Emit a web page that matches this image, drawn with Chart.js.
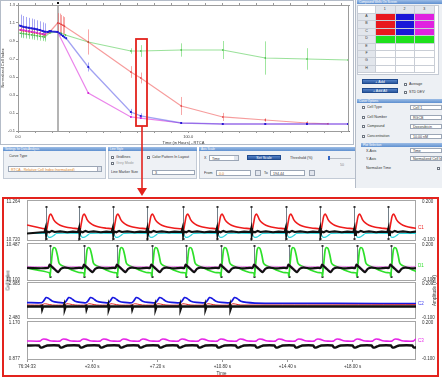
<!DOCTYPE html>
<html>
<head>
<meta charset="utf-8">
<script src="https://cdn.jsdelivr.net/npm/chart.js@4.4.1/dist/chart.umd.min.js"></script>
<style>
  body { margin: 0; width: 442px; height: 378px; position: relative; overflow: hidden; background: #fff;
         font-family: "Liberation Sans", Arial, sans-serif; }
  .a { position: absolute; box-sizing: border-box; white-space: nowrap; overflow: hidden; font-size: 3.6px; color: #333; }
  canvas { position: absolute; }
  .rot { position: absolute; font-size: 4.5px; color: #333; transform: rotate(-90deg); transform-origin: center; white-space: nowrap; }
</style>
</head>
<body>
<div id="ui"></div>
<canvas id="topChart" width="353" height="145" style="left:0;top:0"></canvas>
<div class="a" style="left:2px;top:197px;width:437px;height:180px;border:2px solid #e3231d"></div>
<canvas id="p1" width="432" height="47" style="left:4px;top:197px"></canvas>
<canvas id="p2" width="432" height="44" style="left:4px;top:240px"></canvas>
<canvas id="p3" width="432" height="43" style="left:4px;top:279px"></canvas>
<canvas id="p4" width="432" height="58" style="left:4px;top:318px"></canvas>
<div class="rot" style="left:-7px;top:278px;width:30px;text-align:center">Cell Index</div>
<div class="rot" style="left:417px;top:288px;width:34px;text-align:center">Amplitude (mV)</div>
<svg width="442" height="378" style="position:absolute;left:0;top:0;pointer-events:none">
  <rect x="136" y="39" width="11" height="87" fill="none" stroke="#e3231d" stroke-width="1.8"/>
  <line x1="142" y1="126" x2="142" y2="190" stroke="#e3231d" stroke-width="1.6"/>
  <polygon points="137,188 147,188 142,196" fill="#e3231d"/>
</svg>
<script>
// ---------- top chart: normalized cell index vs time (hours) ----------
const topYTicks = [-0.1, 0.1, 0.3, 0.5, 0.7, 0.9, 1.1, 1.3];
const topXTicks = [0, 10, 20, 30, 40, 50, 60, 70, 80, 90, 100, 110, 120, 130, 140, 150, 160, 170, 180, 190];
const topXLabels = { 0: '0.0', 100: '100.0' };
const addTime = 23.3;

const blueT = [0, 1.6, 3.2, 4.8, 6.4, 8.0, 9.6, 11.2, 12.8, 14.4, 15.7, 17.6, 18.6, 19.4, 23.3, 24.4, 25.4, 26.4, 27.3, 28.3, 41.3, 66.3, 72.1, 95.9, 120.3, 145.3, 169.8, 194];
const blueV = [1.078, 1.068, 1.058, 1.052, 1.047, 1.041, 1.036, 1.030, 1.022, 1.012, 1.003, 1.000, 1.011, 1.008, 1.000, 0.985, 0.970, 0.956, 0.941, 0.930, 0.611, 0.111, 0.067, -0.011, -0.022, -0.022, -0.022, -0.022];
const blueE = [0.13, 0.125, 0.12, 0.115, 0.11, 0.108, 0.105, 0.1, 0.097, 0.095, 0.093, 0.01, 0.01, 0.01, 0, 0.01, 0.012, 0.012, 0.012, 0.012, 0.05, 0.035, 0.03, 0.008, 0.005, 0.005, 0.005, 0.005];

const redT = [0, 1.6, 3.2, 4.8, 6.4, 8.0, 9.6, 11.2, 12.8, 14.4, 15.7, 18.6, 23.3, 24.4, 25.4, 26.4, 27.3, 41.3, 66.3, 72.1, 95.9, 120.3, 145.3, 169.8, 182];
const redV = [1.022, 1.018, 1.012, 1.007, 1.002, 0.997, 0.991, 0.985, 0.979, 0.973, 0.967, 1.0, 1.1, 1.095, 1.085, 1.075, 1.065, 0.889, 0.556, 0.489, 0.178, 0.056, 0.022, -0.011, -0.02];
const redE = [0.04, 0.04, 0.04, 0.04, 0.04, 0.04, 0.04, 0.04, 0.04, 0.04, 0.04, 0.01, 0.11, 0.11, 0.105, 0.1, 0.1, 0.14, 0.065, 0.06, 0.1, 0.045, 0.02, 0.02, 0.01];

const greenT = [0, 1.6, 3.2, 4.8, 6.4, 8.0, 9.6, 11.2, 12.8, 14.4, 15.7, 18.6, 23.3, 25.4, 27.9, 41.3, 66.3, 72.1, 95.9, 120.3, 145.3, 169.8, 194];
const greenV = [0.989, 0.985, 0.981, 0.977, 0.972, 0.968, 0.963, 0.958, 0.953, 0.949, 0.944, 0.99, 1.0, 0.985, 0.967, 0.889, 0.789, 0.789, 0.8, 0.8, 0.711, 0.7, 0.689];
const greenE = [0.05, 0.05, 0.05, 0.05, 0.05, 0.05, 0.05, 0.05, 0.05, 0.05, 0.05, 0.01, 0, 0.01, 0.01, 0.01, 0.03, 0.065, 0.074, 0.1, 0.185, 0.12, 0.01];

const magT = [0, 1.6, 3.2, 4.8, 6.4, 8.0, 9.6, 11.2, 12.8, 14.4, 15.7, 18.6, 23.3, 41.3, 66.3, 72.1, 95.9, 120.3, 145.3, 169.8, 194];
const magV = [1.03, 1.025, 1.02, 1.015, 1.01, 1.004, 0.998, 0.992, 0.986, 0.98, 0.975, 1.011, 1.0, 0.322, 0.056, 0.044, -0.011, -0.022, -0.022, -0.022, -0.022];
const magE = [0.05, 0.05, 0.05, 0.05, 0.05, 0.05, 0.05, 0.05, 0.05, 0.05, 0.05, 0.01, 0, 0.01, 0.01, 0.01, 0.005, 0.005, 0.005, 0.005, 0.005];

const blankT = [0, 0];
const blankV = [1.03, -0.011];

// ---------- bottom panels: beating traces vs seconds ----------
const traceXTicks = [0, 3.6, 7.2, 10.8, 14.4, 18.0];
const traceXLabels = ['76:34:33', '+3.60 s', '+7.20 s', '+10.80 s', '+14.40 s', '+18.00 s'];

// panel 1 (red + black + cyan)
const p1Beats = [1.03, 2.88, 4.74, 6.65, 8.6, 10.5, 12.4, 14.3, 16.2, 18.1, 19.98];
const red1Dt = [-0.05, 0, 0.05, 0.12, 0.2, 0.28, 0.36, 0.45, 0.6, 0.8, 1.1, 1.5];
const red1V = [10.882, 10.872, 10.862, 10.95, 11.05, 11.078, 11.05, 11.0, 10.96, 10.93, 10.905, 10.89];
const red1StartT = [0, 0.5], red1StartV = [10.932, 10.905];
const blk1Dt = [-0.06, 0, 0.03, 0.08, 0.2, 0.35, 0.5, 0.8, 1.2, 1.5];
const blk1V = [-0.034, -0.005, -0.055, -0.03, -0.036, -0.026, -0.034, -0.03, -0.036, -0.032];
const cyan1Dt = [-0.05, 0.05, 0.15, 0.3, 0.45, 0.6];
const cyan1V = [-0.045, -0.05, -0.07, -0.072, -0.06, -0.045];

// panel 2 (green + black + magenta)
const p2Beats = [1.27, 3.17, 4.99, 6.89, 8.79, 10.71, 12.57, 14.47, 16.33, 18.23, 20.1];
const grn2Dt = [-0.04, 0, 0.08, 0.15, 0.22, 0.32, 0.42, 0.5, 0.6, 0.9, 1.2, 1.6];
const grn2V = [10.183, 10.151, 10.294, 10.416, 10.441, 10.426, 10.355, 10.283, 10.263, 10.238, 10.212, 10.187];
const grn2StartT = [0, 0.6], grn2StartV = [10.233, 10.21];
const blk2Dt = [-0.1, -0.02, 0.05, 0.2, 0.35, 0.45, 0.6, 0.8, 1.2, 1.6];
const blk2V = [0.003, 0.03, 0.02, 0.0, -0.02, -0.03, -0.005, 0.006, 0.0, 0.004];
const mag2Dt = [-0.1, 0, 0.2, 0.45, 0.7, 1.2];
const mag2V = [0.015, 0.035, 0.012, -0.018, 0.014, 0.015];

// panel 3 (blue + red + black)
const p3Beats = [0.81, 2.06, 3.26, 4.49, 5.79, 7.08, 8.46, 9.84, 11.22];
const blu3Dt = [0, 0.1, 0.25, 0.4, 0.6, 0.9];
const blu3V = [2.702, 2.722, 2.772, 2.758, 2.722, 2.706];
const blu3EndT = [12.6, 14, 17, 22], blu3EndV = [2.698, 2.694, 2.692, 2.69];
const red3Dt = [0, 0.15, 0.3, 0.6];
const red3V = [2.671, 2.688, 2.684, 2.671];
const blk3Dt = [-0.03, 0, 0.03, 0.08];
const blk3V = [0.0015, 0.016, -0.02, 0.0015];

// panel 4 (magenta + black)
const p4Beats = [0.72, 1.82, 2.93, 4.04, 5.14, 6.21, 7.31, 8.37, 9.47, 10.52, 11.59, 12.66, 13.73, 14.82, 15.87, 16.94, 18.05, 19.1, 20.17, 21.35];
const mag4Dt = [0, 0.1, 0.2, 0.35, 0.55, 0.75];
const mag4V = [1.019, 1.03, 1.035, 1.032, 1.022, 1.019];
const blk4Dt = [-0.05, 0, 0.1, 0.25, 0.4];
const blk4V = [0.0116, 0.0, -0.005, 0.004, 0.0116];

Chart.defaults.font.family = '"Liberation Sans", Arial, sans-serif';
Chart.defaults.color = '#333';

// ---------- screenshot UI around the chart ----------
const ui = document.getElementById('ui');
function box(x, y, w, h, css, text) {
  const d = document.createElement('div');
  d.className = 'a';
  d.style.cssText = `left:${x}px;top:${y}px;width:${w}px;height:${h}px;line-height:${h}px;${css || ''}`;
  if (text) d.textContent = text;
  ui.appendChild(d);
  return d;
}
const panelCss = 'background:#eef1f5;border:1px solid #c3cbd6';
const headCss = 'background:linear-gradient(#9dbde6,#5f90d0);color:#fff;padding-left:2px;font-size:3px';
const inputCss = 'background:#fff;border:1px solid #9ba6b6;padding-left:2px';
const btnCss = 'background:linear-gradient(#5482c8,#2d5aa0);border:1px solid #1f4a8e;color:#fff;text-align:center';
const chk = (x, y) => box(x, y, 3, 3, 'background:#fff;border:1px solid #6d7580');

box(0, 0, 354, 145, 'border:1px solid #b4bcc8;background:#fff');

// left settings panels
box(3, 147, 103, 32, panelCss);
box(3, 147, 103, 4, headCss, 'Settings for Data Analysis');
box(9, 154, 40, 5, '', 'Curve Type');
box(8, 166, 94, 6, inputCss + ';color:#e0861c', 'RTCA - Relative Cell Index (normalized)');
box(97, 167, 4, 4, 'background:#dfe4ec;border-left:1px solid #aab');

box(108, 147, 89, 32, panelCss);
box(108, 147, 89, 4, headCss, 'Line Style');
chk(111, 156); box(116, 155, 30, 5, '', 'Gridlines');
chk(111, 162); box(116, 161, 30, 5, 'color:#999', 'Grey Mode');
chk(147, 156); box(152, 155, 44, 5, '', 'Color Pattern In Layout');
box(111, 170, 40, 5, '', 'Line Marker Size');
box(152, 170, 43, 5, inputCss, '3');

box(199, 147, 159, 32, panelCss);
box(199, 147, 159, 4, headCss, 'Axis Scale');
box(204, 155, 5, 6, '', 'X');
box(209, 155, 30, 6, inputCss, 'Time');
box(234, 156, 4, 4, 'background:#dfe4ec');
box(247, 155, 34, 5, btnCss, 'Set Scale');
box(290, 155, 30, 6, '', 'Threshold (%)');
box(329, 158, 22, 1, 'background:#b5bcc6');
box(328, 156, 2, 4, 'background:#3466c2');
box(340, 163, 8, 4, 'color:#888', '50');
box(204, 170, 12, 6, '', 'From');
box(216, 170, 35, 6, inputCss + ';color:#d07c18', '0.0');
box(255, 170, 6, 6, 'background:#e2e6ee;border:1px solid #9aa3b2');
box(264, 170, 6, 6, '', 'To');
box(270, 170, 35, 6, inputCss, '194.44');
box(309, 170, 6, 6, 'background:#e2e6ee;border:1px solid #9aa3b2');

// right panel: well selection
box(355, 0, 87, 188, 'background:#edf0f4;border-left:1px solid #b4bcc8');
box(357, 0, 85, 4, headCss, 'Compound Wells On Screen');
box(357, 5, 82, 70, 'background:#fff;border:1px solid #c4cad4');
box(375, 6, 59, 7, 'background:#e2e6ec');
box(358, 13, 17, 60, 'background:#e2e6ec');
['1', '2', '3'].forEach((c, i) => box(375 + i * 19.7, 6, 19.7, 7, 'text-align:center', c));
['A', 'B', 'C', 'D', 'E', 'F', 'G', 'H'].forEach((r, i) => box(358, 13 + i * 7.4, 17, 7.4, 'text-align:center', r));
box(375, 13, 20, 22.2, 'background:#e8171d');
box(395, 13, 19, 22.2, 'background:#1a16d8');
box(414, 13, 20, 22.2, 'background:#e021e0');
box(375, 35.2, 59, 7.4, 'background:#1fe01c');
for (let i = 0; i <= 8; i++) box(358, 13 + i * 7.4, 76, 0.6, 'background:#c9ced6');
[375, 395, 414, 434].forEach(x => box(x, 6, 0.6, 67, 'background:#c9ced6'));
box(362, 79, 36, 5, btnCss, '+ Add');
box(362, 88, 36, 5, btnCss, '+ Add All');
chk(404, 83); box(409, 82, 30, 5, '', 'Average');
chk(404, 91); box(409, 90, 30, 5, '', 'STD DEV');
box(357, 99, 85, 4, headCss, 'Curve Options');
[['Cell Type', 'Cell 1'], ['Cell Number', 'RGCB'], ['Compound', 'Doxorubicin'], ['Concentration', '10.00 nM']]
  .forEach(([l, v], i) => {
    const y = 105 + i * 9.5;
    chk(362, y + 1); box(367, y, 40, 5, '', l);
    box(410, y, 32, 5, inputCss, v);
  });

// right panel: plot selection
box(361, 143, 81, 4, headCss, 'Plot Selection');
box(366, 149, 30, 5, '', 'X-Axis');
box(410, 148, 32, 5, inputCss, 'Time');
box(366, 157, 30, 5, '', 'Y-Axis');
box(410, 156, 32, 5, inputCss, 'Normalized Cell Index');
box(366, 166, 40, 5, '', 'Normalize Time');
chk(437, 167);

// ---------- plugins ----------
const errorBars = {
  id: 'errorBars',
  beforeDatasetsDraw(chart) {
    const { ctx, scales: { x, y } } = chart;
    // compound addition marker
    const ax = Math.round(x.getPixelForValue(addTime));
    ctx.save();
    ctx.fillStyle = '#b4b4b4';
    ctx.fillRect(ax - 1, chart.chartArea.top, 2, chart.chartArea.height);
    ctx.fillStyle = '#111';
    ctx.fillRect(ax - 1, chart.chartArea.top - 3, 2, 2);
    chart.data.datasets.forEach(ds => {
      if (!ds.errs) return;
      ctx.strokeStyle = ds.errColor;
      ctx.lineWidth = 1;
      ds.data.forEach((p, i) => {
        const e = ds.errs[i];
        if (!e) return;
        const px = Math.round(x.getPixelForValue(p.x)) + 0.5;
        ctx.beginPath();
        ctx.moveTo(px, y.getPixelForValue(p.y - e));
        ctx.lineTo(px, y.getPixelForValue(p.y + e));
        ctx.stroke();
      });
    });
    ctx.restore();
  },
  afterDraw(chart) {
    const { ctx, chartArea: a } = chart;
    ctx.save();
    ctx.strokeStyle = '#9c9c9c';
    ctx.strokeRect(a.left + 0.5, a.top + 0.5, a.width - 1, a.height);
    ctx.restore();
  }
};

const panelDecor = {
  id: 'panelDecor',
  beforeDatasetsDraw(chart, args, o) {
    const { ctx, chartArea: a } = chart;
    const x = chart.scales.x;
    ctx.save();
    ctx.strokeStyle = '#a6a6a6';
    ctx.lineWidth = 1;
    ctx.strokeRect(a.left + 0.5, a.top + 0.5, a.width - 1, a.height - 1);
    (o.markers || []).forEach(t => {
      const px = Math.round(x.getPixelForValue(t)) + 0.5;
      ctx.strokeStyle = 'rgba(90,105,115,0.85)';
      ctx.beginPath();
      ctx.moveTo(px, a.top + o.mTop);
      ctx.lineTo(px, a.bottom - o.mBot);
      ctx.stroke();
      ctx.fillStyle = '#333';
      ctx.fillRect(px - 1, a.top + o.mTop, 2, 2);
      ctx.fillRect(px - 1, a.bottom - o.mBot - 2, 2, 2);
    });
    ctx.restore();
  },
  afterDraw(chart, args, o) {
    const { ctx, chartArea: a, scales: { y, yR } } = chart;
    ctx.save();
    ctx.font = '4.5px "Liberation Sans", Arial';
    ctx.fillStyle = '#333';
    ctx.textAlign = 'right';
    ctx.textBaseline = 'top';
    ctx.fillText(y.max.toFixed(3), a.left - 7, a.top);
    ctx.textBaseline = 'bottom';
    ctx.fillText(y.min.toFixed(3), a.left - 7, a.bottom + 1);
    ctx.textAlign = 'left';
    ctx.textBaseline = 'top';
    ctx.fillText(yR.max.toFixed(3), a.right + 6, a.top);
    ctx.textBaseline = 'bottom';
    ctx.fillText(yR.min.toFixed(3), a.right + 6, a.bottom + 1);
    ctx.fillStyle = o.tagColor;
    ctx.textBaseline = 'middle';
    ctx.fillText(o.tag, a.right + 2, y.getPixelForValue(o.tagVal));
    ctx.restore();
  }
};

// ---------- top chart ----------
const pts = (T, V) => T.map((t, i) => ({ x: t, y: V[i] }));
const tinyTicks = { font: { size: 4 }, padding: 1, color: '#444' };

new Chart(document.getElementById('topChart'), {
  type: 'line',
  data: {
    datasets: [
      { label: 'Blue', data: pts(blueT, blueV), errs: blueE, errColor: 'rgba(95,95,235,0.55)',
        borderColor: 'rgba(70,70,230,0.5)', borderWidth: 1.3, pointBackgroundColor: '#1a1ad2', pointBorderWidth: 0,
        pointStyle: 'rect', pointRadius: 1.3,
        segment: { borderColor: c => c.p1.parsed.x <= addTime ? 'rgba(30,30,215,0.9)' : undefined,
                   borderWidth: c => c.p1.parsed.x <= addTime ? 1.8 : undefined } },
      { label: 'Magenta', data: pts(magT, magV), errs: magE, errColor: 'rgba(230,120,230,0.45)',
        borderColor: 'rgba(225,80,225,0.7)', borderWidth: 1.2, pointBackgroundColor: '#d21ed2', pointBorderWidth: 0,
        pointStyle: 'rect', pointRadius: 1.2 },
      { label: 'Red', data: pts(redT, redV), errs: redE, errColor: 'rgba(240,95,95,0.55)',
        borderColor: 'rgba(240,90,90,0.6)', borderWidth: 1.2, pointBackgroundColor: 'rgba(220,40,40,0.8)', pointBorderWidth: 0,
        pointStyle: 'rect', pointRadius: 1 },
      { label: 'Green', data: pts(greenT, greenV), errs: greenE, errColor: 'rgba(120,220,120,0.7)',
        borderColor: 'rgba(120,215,120,0.75)', borderWidth: 1.2, pointBackgroundColor: 'rgba(60,185,60,0.9)', pointBorderWidth: 0,
        pointStyle: 'rect', pointRadius: 1 },
      { label: 'Blank', data: pts(blankT, blankV), borderColor: 'rgba(230,110,230,0.6)', borderWidth: 1,
        pointBackgroundColor: ['rgba(0,0,0,0)', '#1a1ad2'], pointBorderWidth: 0, pointStyle: 'rect', pointRadius: 1.3 }
    ]
  },
  options: {
    responsive: false, animation: false, devicePixelRatio: 1,
    layout: { padding: { left: 0, right: 1, top: 2, bottom: 0 } },
    plugins: { legend: { display: false }, tooltip: { enabled: false } },
    scales: {
      x: {
        type: 'linear', min: 0, max: 194.5,
        afterBuildTicks: s => { s.ticks = topXTicks.map(v => ({ value: v })); },
        afterFit: s => { s.height = 14; },
        ticks: { ...tinyTicks, maxRotation: 0, autoSkip: false, callback: v => topXLabels[v] || '' },
        grid: { drawOnChartArea: false, tickLength: 2, color: '#999' },
        border: { color: '#777' },
        title: { display: true, text: 'Time (in Hours) - RTCA', font: { size: 4 }, padding: 0 }
      },
      x2: {
        type: 'linear', position: 'top', min: 0, max: 194.5,
        afterBuildTicks: s => { s.ticks = topXTicks.map(v => ({ value: v })); },
        afterFit: s => { s.height = 3; },
        ticks: { display: false },
        grid: { drawOnChartArea: false, tickLength: 2, color: '#999' },
        border: { color: '#999' }
      },
      y: {
        min: -0.1, max: 1.3,
        afterBuildTicks: s => { s.ticks = topYTicks.map(v => ({ value: v })); },
        afterFit: s => { s.width = 18; },
        ticks: { ...tinyTicks, callback: v => v.toFixed(1) },
        grid: { drawOnChartArea: false, tickLength: 2, color: '#999' },
        border: { color: '#777' },
        title: { display: true, text: 'Normalized Cell Index', font: { size: 4 }, padding: 0 }
      }
    }
  },
  plugins: [errorBars]
});

// ---------- bottom trace panels ----------
function beatTrace(startT, startV, beats, dts, vals, endT, endV) {
  const out = pts(startT, startV);
  beats.forEach(b => dts.forEach((d, i) => out.push({ x: +(b + d).toFixed(3), y: vals[i] })));
  return out.concat(pts(endT, endV));
}
const line = (data, color, width, axis, tension) => ({
  data, borderColor: color, borderWidth: width, pointRadius: 0,
  tension: tension === undefined ? 0.25 : tension, yAxisID: axis || 'y'
});

function panel(id, leftMin, leftMax, datasets, deco, last) {
  new Chart(document.getElementById(id), {
    type: 'line',
    data: { datasets },
    options: {
      responsive: false, animation: false, devicePixelRatio: 1,
      layout: { padding: { left: 0, right: 0, top: 3, bottom: last ? 0 : 3 } },
      plugins: { legend: { display: false }, tooltip: { enabled: false }, panelDecor: deco },
      scales: {
        x: {
          type: 'linear', min: 0, max: 21.5, display: !!last,
          afterBuildTicks: s => { s.ticks = traceXTicks.map(v => ({ value: v })); },
          afterFit: s => { s.height = last ? 16 : 0; },
          ticks: { font: { size: 4.5 }, padding: 2, maxRotation: 0, autoSkip: false,
                   callback: (v, i) => traceXLabels[i] },
          grid: { drawOnChartArea: false, tickLength: 2, color: '#999' },
          border: { display: false },
          title: { display: true, text: 'Time', font: { size: 4.5 }, padding: 0 }
        },
        y: {
          min: leftMin, max: leftMax, position: 'left',
          ticks: { display: false }, grid: { display: false }, border: { display: false },
          afterFit: s => { s.width = 23; }
        },
        yR: {
          min: -0.1, max: 0.2, position: 'right',
          ticks: { display: false }, grid: { display: false }, border: { display: false },
          afterFit: s => { s.width = 20; }
        }
      }
    },
    plugins: [panelDecor]
  });
}

panel('p1', 10.720, 11.264, [
  line(beatTrace([0], [-0.045], p1Beats, blk1Dt, blk1V, [22], [-0.034]), '#111', 2.2, 'yR', 0),
  line(beatTrace([0], [-0.045], p1Beats, cyan1Dt, cyan1V, [22], [-0.045]), '#30d8e0', 1.2, 'yR'),
  line(beatTrace(red1StartT, red1StartV, p1Beats, red1Dt, red1V, [22], [10.882]), '#ee1c1c', 1.6)
], { markers: p1Beats, mTop: 6, mBot: 1, tag: 'C1', tagColor: '#ee1c1c', tagVal: 10.9 });

panel('p2', 10.100, 10.487, [
  line(beatTrace([0], [0.003], p2Beats, blk2Dt, blk2V, [22], [0.003]), '#111', 2.2, 'yR'),
  line(beatTrace([0], [0.015], p2Beats, mag2Dt, mag2V, [22], [0.015]), 'rgba(215,70,215,0.8)', 0.8, 'yR'),
  line(beatTrace(grn2StartT, grn2StartV, p2Beats, grn2Dt, grn2V, [22], [10.19]), '#2ee02a', 1.7)
], { markers: p2Beats, mTop: 2, mBot: 3, tag: 'D1', tagColor: '#2ee02a', tagVal: 10.26 });

panel('p3', 2.480, 2.985, [
  line(beatTrace([0], [0.0015], p3Beats, blk3Dt, blk3V, [22], [0.0015]), '#111', 2.4, 'yR', 0),
  line(beatTrace([0], [2.671], p3Beats, red3Dt, red3V, [22], [2.675]), '#e02020', 1),
  line(beatTrace([0], [2.704], p3Beats, blu3Dt, blu3V, blu3EndT, blu3EndV), '#1818e0', 1.7)
], { markers: [], mTop: 0, mBot: 0, tag: 'C2', tagColor: '#3a3af0', tagVal: 2.69 });

panel('p4', 0.877, 1.170, [
  line(beatTrace([0], [0.0116], p4Beats, blk4Dt, blk4V, [22], [0.0116]), '#111', 2.4, 'yR'),
  line(beatTrace([0], [1.02], p4Beats, mag4Dt, mag4V, [22.3], [1.019]), '#e626e6', 1.6)
], { markers: [], mTop: 0, mBot: 0, tag: 'C3', tagColor: '#e626e6', tagVal: 1.02 }, true);
</script>
</body>
</html>
